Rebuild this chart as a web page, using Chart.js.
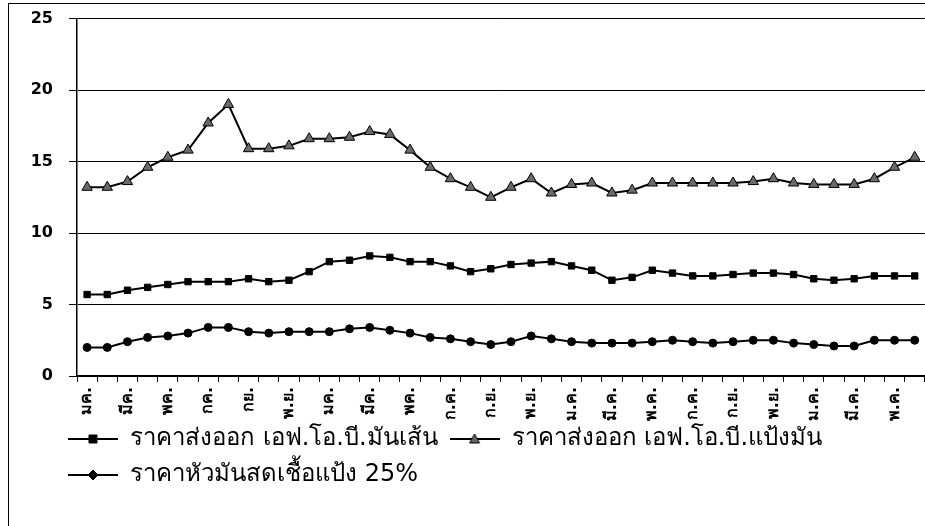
<!DOCTYPE html>
<html>
<head>
<meta charset="utf-8">
<script src="https://cdn.jsdelivr.net/npm/chart.js@4"></script>
<style>
  html, body { margin: 0; padding: 0; background: #fff; overflow: hidden; }
  #wrap { position: absolute; left: 0; top: -7px; width: 939px; height: 533px; }
  #frame { position: absolute; left: 8px; top: 3px; width: 940px; height: 540px;
           border-left: 1px solid #000; border-top: 1px solid #000; pointer-events: none; }
</style>
</head>
<body>
<div id="wrap"><canvas id="priceChart" width="939" height="533"></canvas></div>
<div id="frame"></div>
<script>
// tick labels shown every other month
const tickLabels = ['มค.', 'มีค.', 'พค.', 'กค.', 'กย.', 'พ.ย.', 'มค.', 'มีค.', 'พค.', 'ก.ค.', 'ก.ย.',
    'พ.ย.', 'ม.ค.', 'มี.ค.', 'พ.ค.', 'ก.ค.', 'ก.ย.', 'พ.ย.', 'ม.ค.', 'มี.ค.', 'พ.ค.'];
const categories = tickLabels.flatMap(l => [l, '']);

const seriesNames = [
    'ราคาส่งออก เอฟ.โอ.บี.มันเส้น',
    'ราคาส่งออก เอฟ.โอ.บี.แป้งมัน',
    'ราคาหัวมันสดเชื้อแป้ง 25%'
];

const chipPrice = [5.7, 5.7, 6.0, 6.2, 6.4, 6.6, 6.6, 6.6, 6.8, 6.6, 6.7, 7.3, 8.0, 8.1, 8.4, 8.3,
    8.0, 8.0, 7.7, 7.3, 7.5, 7.8, 7.9, 8.0, 7.7, 7.4, 6.7, 6.9, 7.4, 7.2, 7.0, 7.0, 7.1, 7.2,
    7.2, 7.1, 6.8, 6.7, 6.8, 7.0, 7.0, 7.0];
const starchPrice = [13.2, 13.2, 13.6, 14.6, 15.3, 15.8, 17.7, 19.0, 15.9, 15.9, 16.1, 16.6, 16.6,
    16.7, 17.1, 16.9, 15.8, 14.6, 13.8, 13.2, 12.5, 13.2, 13.8, 12.8, 13.4, 13.5, 12.8, 13.0,
    13.5, 13.5, 13.5, 13.5, 13.5, 13.6, 13.8, 13.5, 13.4, 13.4, 13.4, 13.8, 14.6, 15.3];
const rootPrice = [2.0, 2.0, 2.4, 2.7, 2.8, 3.0, 3.4, 3.4, 3.1, 3.0, 3.1, 3.1, 3.1, 3.3, 3.4, 3.2,
    3.0, 2.7, 2.6, 2.4, 2.2, 2.4, 2.8, 2.6, 2.4, 2.3, 2.3, 2.3, 2.4, 2.5, 2.4, 2.3, 2.4, 2.5,
    2.5, 2.3, 2.2, 2.1, 2.1, 2.5, 2.5, 2.5];

const thaiFont = "'DejaVu Sans', 'Noto Sans', sans-serif";
const ICON_W = 50;

// little "line + marker" picture for the legend
function legendIcon(style, fill) {
    const c = document.createElement('canvas');
    c.width = ICON_W; c.height = 14;
    const g = c.getContext('2d');
    const m = ICON_W / 2;
    g.strokeStyle = '#000';
    g.lineWidth = 2;
    g.beginPath(); g.moveTo(0, 7); g.lineTo(ICON_W, 7); g.stroke();
    g.fillStyle = fill;
    g.lineWidth = 1;
    g.beginPath();
    if (style === 'rect') {
        g.rect(m - 4, 3, 8, 8);
    } else if (style === 'triangle') {
        g.moveTo(m, 2); g.lineTo(m + 5, 11); g.lineTo(m - 5, 11); g.closePath();
    } else {
        g.moveTo(m, 2); g.lineTo(m + 5, 7); g.lineTo(m, 12); g.lineTo(m - 5, 7); g.closePath();
    }
    g.fill(); g.stroke();
    return c;
}

const icons = [legendIcon('rect', '#000'), legendIcon('triangle', '#666'), legendIcon('diamond', '#000')];

// move the legend block under the plot, like the original
const legendShift = {
    id: 'legendShift',
    afterLayout(chart) {
        chart.legend.left += 28;
        chart.legend.top -= 11;
        chart.legend.bottom -= 11;
    }
};

const ctx = document.getElementById('priceChart').getContext('2d');
new Chart(ctx, {
    type: 'line',
    data: {
        labels: categories,
        datasets: [{
            label: seriesNames[0],
            data: chipPrice,
            borderColor: '#000',
            backgroundColor: '#000',
            borderWidth: 2,
            pointStyle: 'rect',
            pointRadius: 4.5,
            pointBorderWidth: 1
        }, {
            label: seriesNames[1],
            data: starchPrice,
            borderColor: '#000',
            backgroundColor: '#6a6a6a',
            pointBorderColor: '#000',
            borderWidth: 2,
            pointStyle: 'triangle',
            pointRadius: 6,
            pointBorderWidth: 1
        }, {
            label: seriesNames[2],
            data: rootPrice,
            borderColor: '#000',
            backgroundColor: '#000',
            borderWidth: 2,
            pointStyle: 'circle',
            pointRadius: 4,
            pointBorderWidth: 1
        }]
    },
    options: {
        responsive: false,
        animation: false,
        layout: { padding: { top: 7, left: 28, right: 0, bottom: 18 } },
        scales: {
            y: {
                min: 0,
                max: 25,
                ticks: {
                    stepSize: 5,
                    color: '#000',
                    padding: 16,
                    font: { family: "'DejaVu Sans', sans-serif", size: 16, weight: 'bold' }
                },
                grid: { color: '#000', lineWidth: 1, tickLength: 8 },
                border: { display: true, color: '#000', width: 1.5 },
                afterFit: function(scale) { scale.width = 49; }
            },
            x: {
                offset: true,
                ticks: {
                    autoSkip: false,
                    maxRotation: 90,
                    minRotation: 90,
                    color: '#000',
                    padding: 5,
                    font: { family: thaiFont, size: 16, weight: 'bold' }
                },
                grid: { display: true, drawOnChartArea: false, drawTicks: true, tickLength: 6,
                        color: '#000', offset: true },
                border: { display: true, color: '#000', width: 1.5 },
                afterFit: function(scale) { scale.height = 50; }
            }
        },
        plugins: {
            legend: {
                position: 'bottom',
                align: 'start',
                labels: {
                    usePointStyle: true,
                    pointStyleWidth: ICON_W,
                    color: '#000',
                    padding: 12,
                    font: { family: thaiFont, size: 24 },
                    generateLabels: function(chart) {
                        return chart.data.datasets.map((ds, i) => ({
                            text: ds.label,
                            pointStyle: icons[i],
                            fillStyle: '#000',
                            strokeStyle: '#000',
                            lineWidth: 0,
                            hidden: false,
                            datasetIndex: i
                        }));
                    }
                }
            },
            tooltip: { enabled: false }
        }
    },
    plugins: [legendShift]
});
</script>
</body>
</html>
